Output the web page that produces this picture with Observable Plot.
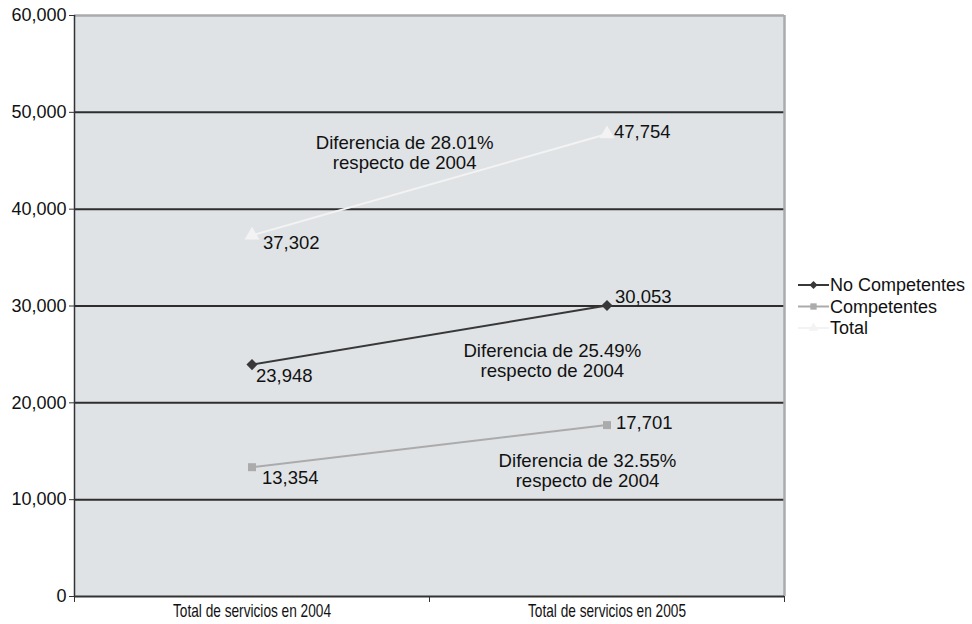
<!DOCTYPE html>
<html>
<head>
<meta charset="utf-8">
<script src="https://cdn.jsdelivr.net/npm/d3@7"></script>
<script src="https://cdn.jsdelivr.net/npm/@observablehq/plot@0.6"></script>
<style>
  html, body { margin: 0; padding: 0; background: #fff; }
  #chart { width: 972px; height: 624px; }
</style>
</head>
<body>
<div id="chart"></div>
<script>
const categories = ["Total de servicios en 2004", "Total de servicios en 2005"];
const seriesNames = ["No Competentes", "Competentes", "Total"];
const noCompetentes = [23948, 30053];
const competentes = [13354, 17701];
const total = [37302, 47754];
const yTicks = [0, 10000, 20000, 30000, 40000, 50000, 60000];
const annotations = [
  "Diferencia de 28.01%\nrespecto de 2004",
  "Diferencia de 25.49%\nrespecto de 2004",
  "Diferencia de 32.55%\nrespecto de 2004"
];

const colors = {"No Competentes": "#383838", "Competentes": "#ababab", "Total": "#f3f3f3"};
const symbols = {"No Competentes": "diamond2", "Competentes": "square", "Total": "triangle"};
const sizes = {"No Competentes": 5, "Competentes": 4.5, "Total": 5.5};
// label offsets (layout only): [dx, dy] per category index
const labelOffsets = {
  "No Competentes": [[4, 11], [8, -8]],
  "Competentes": [[10, 11], [9, -2]],
  "Total": [[11, 8], [7, -2]]
};
// annotation placement (layout only)
const annotationPos = [[0.93, 45850], [1.346, 24370], [1.445, 13010]];

const valuesBySeries = {"No Competentes": noCompetentes, "Competentes": competentes, "Total": total};
const rows = [];
for (const s of seriesNames) {
  valuesBySeries[s].forEach((v, i) => rows.push({series: s, cat: categories[i], i, xi: i + 0.5, value: v}));
}
const fmt = d3.format(",");
const font = "'Liberation Sans', Arial, Helvetica, sans-serif";

const marks = [
  Plot.frame({fill: "#dfe3e6", stroke: null}),
  Plot.ruleY(yTicks.filter(t => t > 0 && t < 60000), {stroke: "#2e2e2e", strokeWidth: 2}),
  Plot.ruleY([60000], {stroke: "#a9abac", strokeWidth: 2.5}),
  Plot.ruleX([2], {stroke: "#a9abac", strokeWidth: 2.5}),
  Plot.ruleX([0], {stroke: "#333", strokeWidth: 1.5}),
  Plot.ruleY([0], {stroke: "#333", strokeWidth: 2}),
  Plot.axisY({ticks: yTicks, tickFormat: fmt, tickSize: 5, tickPadding: 3, label: null, fontSize: 18, stroke: "#333"}),
  Plot.axisX({ticks: [0, 1, 2], tickSize: 6, tickFormat: () => "", label: null, stroke: "#333"}),
  Plot.axisX({ticks: [0.5, 1.5], tickSize: 0, tickPadding: 8, tickFormat: d => categories[Math.floor(d)], label: null,
    fontSize: 18, className: "xlab"})
];
for (const s of seriesNames) {
  const data = rows.filter(r => r.series === s);
  marks.push(Plot.line(data, {x: "xi", y: "value", stroke: colors[s], strokeWidth: 2}));
  marks.push(Plot.dot(data, {x: "xi", y: "value", symbol: () => symbols[s], fill: colors[s], stroke: "none", r: sizes[s]}));
  data.forEach((d, k) => {
    const [dx, dy] = labelOffsets[s][k];
    marks.push(Plot.text([d], {x: "xi", y: "value", text: d => fmt(d.value), textAnchor: "start", lineAnchor: "middle",
      dx, dy, fontSize: 18.5, fill: "#111"}));
  });
}
annotations.forEach((t, k) => {
  marks.push(Plot.text([t], {x: () => annotationPos[k][0], y: () => annotationPos[k][1], text: d => d,
    textAnchor: "middle", lineAnchor: "middle", lineHeight: 1.1, fontSize: 18.6, fill: "#111"}));
});

const chart = Plot.plot({
  width: 972,
  height: 624,
  marginLeft: 74,
  marginRight: 188,
  marginTop: 15,
  marginBottom: 28,
  style: {fontFamily: font, fontSize: "18px", color: "#111", background: "#fff", overflow: "visible"},
  x: {type: "linear", domain: [0, 2], axis: null},
  y: {domain: [0, 60000], axis: null},
  symbol: {type: "identity"},
  marks
});

const svg = d3.select(chart);
// condensed x-axis category labels (horizontal squeeze only)
svg.selectAll(".xlab text").each(function () {
  const t = d3.select(this);
  const tr = t.attr("transform") || "";
  t.attr("font-size", 18).attr("transform", tr + " scale(0.76,1)");
});

// Legend on the right
const lg = svg.append("g").attr("transform", "translate(798, 285)")
  .attr("font-family", font).attr("font-size", 18).attr("text-anchor", "start");
seriesNames.forEach((s, k) => {
  const g = lg.append("g").attr("transform", `translate(0, ${k * 21.5})`);
  g.append("line").attr("x1", 0).attr("x2", 31).attr("y1", 0).attr("y2", 0).attr("stroke", colors[s]).attr("stroke-width", 2);
  const sym = {diamond2: d3.symbolDiamond2, square: d3.symbolSquare, triangle: d3.symbolTriangle}[symbols[s]];
  g.append("path").attr("d", d3.symbol(sym, 40)()).attr("transform", "translate(15.5,0)").attr("fill", colors[s]);
  g.append("text").attr("x", 32).attr("y", 0).attr("dy", "0.35em").attr("fill", "#111").attr("text-anchor", "start").text(s);
});

document.getElementById("chart").appendChild(chart);
</script>
</body>
</html>
